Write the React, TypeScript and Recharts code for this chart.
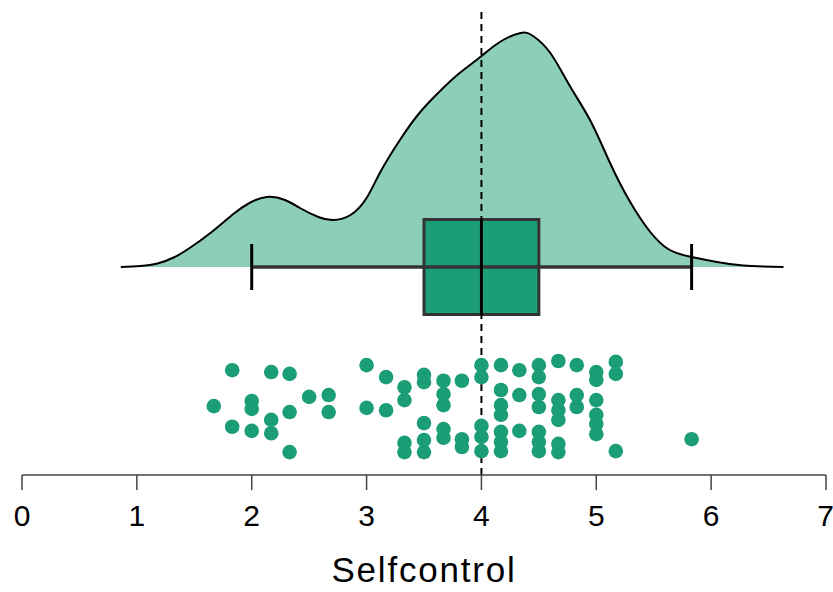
import {
  ComposedChart,
  Area,
  Scatter,
  XAxis,
  YAxis,
  ReferenceLine,
  ReferenceArea,
} from "recharts";

// Kernel density of Selfcontrol (x value, density)
const densityX = [
  0.86, 1.03, 1.18, 1.33, 1.46, 1.64, 1.84, 1.98, 2.13, 2.29, 2.42, 2.58, 2.71, 2.86, 3.0,
  3.12, 3.29, 3.46, 3.64, 3.81, 3.99, 4.16, 4.34, 4.45, 4.6, 4.77, 4.95, 5.12, 5.29, 5.47,
  5.64, 5.83, 6.05, 6.28, 6.63,
];
const densityY = [
  0, 0.002, 0.007, 0.02, 0.038, 0.068, 0.106, 0.128, 0.14, 0.134, 0.118, 0.1, 0.094, 0.104, 0.138,
  0.19, 0.254, 0.308, 0.352, 0.388, 0.42, 0.45, 0.468, 0.462, 0.428, 0.362, 0.292, 0.208, 0.132,
  0.07, 0.034, 0.02, 0.01, 0.003, 0,
];

// Raw scores with their vertical jitter (-1..1)
const scores = [
  1.67, 1.83, 1.83, 2.0, 2.0, 2.0, 2.17, 2.17, 2.17, 2.33, 2.33, 2.33, 2.5, 2.67, 2.67, 3.0, 3.0,
  3.17, 3.17, 3.33, 3.33, 3.33, 3.33, 3.5, 3.5, 3.5, 3.5, 3.5, 3.67, 3.67, 3.67, 3.67, 3.67,
  3.83, 3.83, 3.83, 4.0, 4.0, 4.0, 4.0, 4.0, 4.17, 4.17, 4.17, 4.17, 4.17, 4.17, 4.17, 4.33,
  4.33, 4.33, 4.5, 4.5, 4.5, 4.5, 4.5, 4.5, 4.5, 4.67, 4.67, 4.67, 4.67, 4.67, 4.67, 4.83, 4.83,
  4.83, 5.0, 5.0, 5.0, 5.0, 5.0, 5.0, 5.17, 5.17, 5.17, 5.83,
];
const jitter = [
  0.02, 0.8, -0.43, 0.13, -0.04, -0.52, 0.76, -0.28, -0.57, 0.72, -0.11, -0.98, 0.22, 0.26, -0.11,
  0.91, -0.02, 0.65, -0.07, 0.43, 0.15, -0.78, -0.98, 0.7, 0.54, -0.35, -0.72, -0.98, 0.57, 0.28,
  0.04, -0.48, -0.67, 0.57, -0.7, -0.87, 0.91, 0.65, -0.41, -0.65, -0.96, 0.91, 0.37, 0.04, -0.17,
  -0.54, -0.76, -0.96, 0.8, 0.26, -0.52, 0.91, 0.65, 0.28, 0.0, -0.54, -0.76, -0.96, 1.0, 0.15,
  -0.07, -0.28, -0.8, -0.98, 0.91, 0.26, 0.0, 0.76, 0.59, 0.15, -0.17, -0.37, -0.59, 0.98, 0.72,
  -0.96, -0.7,
];

// Box plot summary
const boxStats = { lower: 2.0, q1: 3.5, median: 4.0, q3: 4.5, upper: 5.83 };
const xTicks = [0, 1, 2, 3, 4, 5, 6, 7];

const GREEN = "#1b9e77";
const LIGHT_GREEN = "#8dcebb";
const FONT = "'Liberation Sans', Arial, Helvetica, sans-serif";

// layout: plot area spans y 10..475, density baseline at 267, dots centred at 407
const W = 833;
const H = 592;
const TOP = 10;
const AXIS_H = 117;
const BOTTOM = H - AXIS_H;
const BASE_Y = 267;
const DENS_PX = 500;
const JIT_Y = 407;
const JIT_PX = 46;
const densDomain = [-(BOTTOM - BASE_Y) / DENS_PX, (BASE_Y - TOP) / DENS_PX];
const jitDomain = [-(BOTTOM - JIT_Y) / JIT_PX, (JIT_Y - TOP) / JIT_PX];
const BOX_HALF = 0.095;
const CAP_HALF = 0.046;

const densityData = densityX.map((x, i) => ({ x, d: densityY[i] }));
const pointData = scores.map((x, i) => ({ x, j: jitter[i] }));

const Dot = (props: { cx?: number; cy?: number }) => (
  <circle cx={props.cx} cy={props.cy} r={7.3} fill={GREEN} />
);

export default function App() {
  return (
    <div style={{ position: "absolute", left: 0, top: 0, background: "#fff" }}>
      <ComposedChart width={W} height={H} margin={{ top: TOP, right: 7, bottom: 0, left: 22 }}>
        <XAxis
          dataKey="x"
          type="number"
          domain={[0, 7]}
          ticks={xTicks}
          allowDataOverflow
          height={AXIS_H}
          stroke="#444"
          strokeWidth={1.5}
          tickSize={15}
          tickMargin={15}
          tick={{ fontSize: 30, fill: "#000", fontFamily: FONT }}
          label={{
            value: "Selfcontrol",
            position: "insideBottom",
            offset: 10,
            fontSize: 35,
            letterSpacing: 1.8,
            fill: "#000",
            fontFamily: FONT,
          }}
        />
        <YAxis yAxisId="dens" type="number" domain={densDomain} allowDataOverflow hide />
        <YAxis yAxisId="jit" type="number" domain={jitDomain} allowDataOverflow hide />

        <Area
          yAxisId="dens"
          data={densityData}
          dataKey="d"
          type="natural"
          baseValue={0}
          fill={LIGHT_GREEN}
          fillOpacity={1}
          stroke="#000"
          strokeWidth={2}
          isAnimationActive={false}
        />

        {/* whiskers */}
        <ReferenceLine
          yAxisId="dens"
          segment={[
            { x: boxStats.lower, y: 0 },
            { x: boxStats.upper, y: 0 },
          ]}
          stroke="#333"
          strokeWidth={3.5}
        />
        <ReferenceLine
          yAxisId="dens"
          segment={[
            { x: boxStats.lower, y: -CAP_HALF },
            { x: boxStats.lower, y: CAP_HALF },
          ]}
          stroke="#000"
          strokeWidth={3}
        />
        <ReferenceLine
          yAxisId="dens"
          segment={[
            { x: boxStats.upper, y: -CAP_HALF },
            { x: boxStats.upper, y: CAP_HALF },
          ]}
          stroke="#000"
          strokeWidth={3}
        />
        <ReferenceArea
          yAxisId="dens"
          x1={boxStats.q1}
          x2={boxStats.q3}
          y1={-BOX_HALF}
          y2={BOX_HALF}
          fill={GREEN}
          fillOpacity={1}
          stroke="#333"
          strokeWidth={3}
        />
        <ReferenceLine
          yAxisId="dens"
          segment={[
            { x: boxStats.median, y: -BOX_HALF },
            { x: boxStats.median, y: BOX_HALF },
          ]}
          stroke="#000"
          strokeWidth={3}
        />

        <ReferenceLine
          yAxisId="dens"
          x={boxStats.median}
          stroke="#000"
          strokeWidth={2}
          strokeDasharray="7 5"
        />

        <Scatter
          yAxisId="jit"
          data={pointData}
          dataKey="j"
          shape={<Dot />}
          isAnimationActive={false}
        />
      </ComposedChart>
    </div>
  );
}
